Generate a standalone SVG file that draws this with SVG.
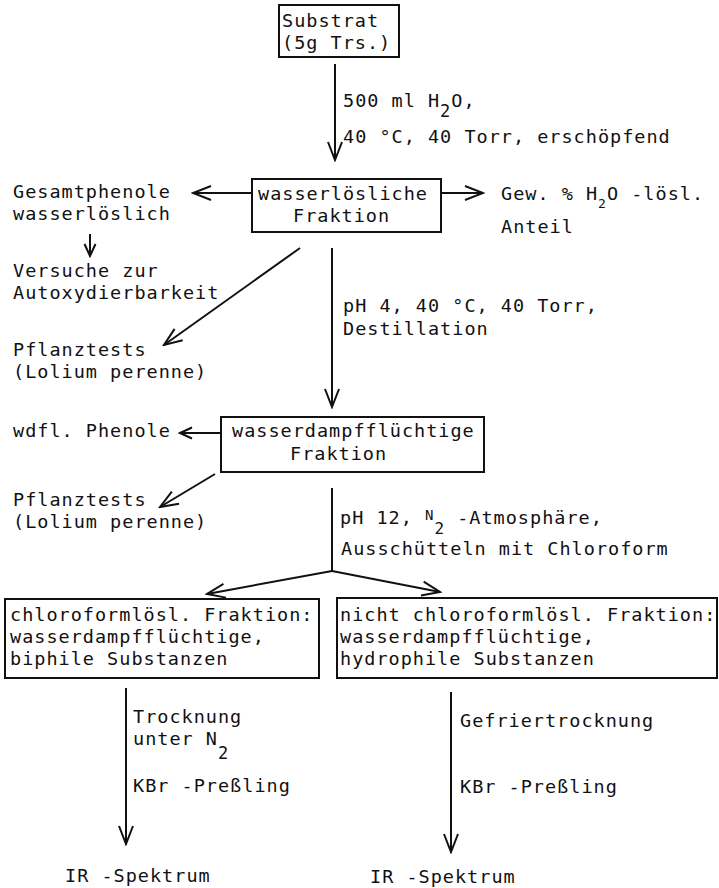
<svg xmlns="http://www.w3.org/2000/svg" width="719" height="888" viewBox="0 0 719 888">
  <style>
    text { font-family: "DejaVu Sans Mono", "Liberation Mono", monospace; font-size: 18.5px; letter-spacing: 1px; fill: #111; }
    .box { fill: #fff; stroke: #111; stroke-width: 2; }
    .ln { fill: none; stroke: #111; stroke-width: 2; }
  </style>
  <defs>
    <marker id="ah" markerWidth="22" markerHeight="18" refX="20" refY="9" orient="auto" markerUnits="userSpaceOnUse" viewBox="0 0 22 18">
      <path d="M2,2 L20,9 L2,16" fill="none" stroke="#111" stroke-width="2"/>
    </marker>
    <marker id="ahs" markerWidth="16" markerHeight="14" refX="14" refY="7" orient="auto" markerUnits="userSpaceOnUse" viewBox="0 0 16 14">
      <path d="M2,1.5 L14,7 L2,12.5" fill="none" stroke="#111" stroke-width="2"/>
    </marker>
  </defs>
  <rect width="719" height="888" fill="#fff"/>

  <!-- connectors -->
  <g id="connectors">
    <line class="ln" x1="335" y1="64" x2="335" y2="160" marker-end="url(#ah)"/>
    <line class="ln" x1="441" y1="193" x2="483" y2="193" marker-end="url(#ah)"/>
    <line class="ln" x1="252" y1="193" x2="193" y2="193" marker-end="url(#ah)"/>
    <line class="ln" x1="90" y1="234" x2="90" y2="256" marker-end="url(#ahs)"/>
    <line class="ln" x1="300" y1="248" x2="164" y2="345" marker-end="url(#ah)"/>
    <line class="ln" x1="332" y1="248" x2="332" y2="407" marker-end="url(#ah)"/>
    <line class="ln" x1="221" y1="433" x2="180" y2="433" marker-end="url(#ahs)"/>
    <line class="ln" x1="215" y1="474" x2="160" y2="507" marker-end="url(#ah)"/>
    <polyline class="ln" points="332,488 332,571"/>
    <line class="ln" x1="332" y1="571" x2="207" y2="594" marker-end="url(#ah)"/>
    <line class="ln" x1="332" y1="571" x2="440" y2="592" marker-end="url(#ah)"/>
    <line class="ln" x1="126" y1="688" x2="126" y2="844" marker-end="url(#ah)"/>
    <line class="ln" x1="451" y1="692" x2="451" y2="852" marker-end="url(#ah)"/>
  </g>

  <!-- edge labels -->
  <g id="labels">
    <text x="343" y="107">500 ml H<tspan dy="10" font-size="17">2</tspan><tspan dy="-10">O,</tspan></text>
    <text x="343" y="143">40 °C, 40 Torr, erschöpfend</text>
    <text x="343" y="312">pH 4, 40 °C, 40 Torr,</text>
    <text x="343" y="335">Destillation</text>
    <text x="340" y="524">pH 12, <tspan font-size="14" dy="-4">N</tspan><tspan font-size="16" dy="14">2</tspan><tspan dy="-10"> -Atmosphäre,</tspan></text>
    <text x="341" y="555">Ausschütteln mit Chloroform</text>
    <text x="133" y="723">Trocknung</text>
    <text x="133" y="745">unter N<tspan font-size="17" dy="14">2</tspan></text>
    <text x="133" y="792">KBr -Preßling</text>
    <text x="460" y="727">Gefriertrocknung</text>
    <text x="460" y="793">KBr -Preßling</text>
  </g>

  <g id="substrat">
    <rect class="box" x="279" y="5" width="120" height="52"/>
    <text x="282" y="27">Substrat</text>
    <text x="282" y="49">(5g Trs.)</text>
  </g>

  <g id="wasserloesliche">
    <rect class="box" x="252" y="179" width="189" height="53"/>
    <text x="258" y="200">wasserlösliche</text>
    <text x="293" y="222">Fraktion</text>
  </g>

  <g id="gew-anteil">
    <text x="501" y="200">Gew. % H<tspan font-size="13" dy="8">2</tspan><tspan dy="-8">O -lösl.</tspan></text>
    <text x="501" y="233">Anteil</text>
  </g>

  <g id="gesamtphenole">
    <text x="13" y="198">Gesamtphenole</text>
    <text x="13" y="220">wasserlöslich</text>
  </g>

  <g id="autoxydierbarkeit">
    <text x="13" y="277">Versuche zur</text>
    <text x="13" y="299">Autoxydierbarkeit</text>
  </g>

  <g id="pflanztests-1">
    <text x="13" y="356">Pflanztests</text>
    <text x="13" y="378">(Lolium perenne)</text>
  </g>

  <g id="wasserdampffluechtige">
    <rect class="box" x="221" y="417" width="263" height="55"/>
    <text x="232" y="437">wasserdampfflüchtige</text>
    <text x="290" y="460">Fraktion</text>
  </g>

  <g id="wdfl-phenole">
    <text x="13" y="437">wdfl. Phenole</text>
  </g>

  <g id="pflanztests-2">
    <text x="13" y="506">Pflanztests</text>
    <text x="13" y="528">(Lolium perenne)</text>
  </g>

  <g id="chloroformloesl">
    <rect class="box" x="5" y="599" width="314" height="79"/>
    <text x="10" y="621">chloroformlösl. Fraktion:</text>
    <text x="10" y="643">wasserdampfflüchtige,</text>
    <text x="10" y="665">biphile Substanzen</text>
  </g>

  <g id="nicht-chloroformloesl">
    <rect class="box" x="337" y="598" width="380" height="80"/>
    <text x="340" y="621">nicht chloroformlösl. Fraktion:</text>
    <text x="340" y="643">wasserdampfflüchtige,</text>
    <text x="340" y="665">hydrophile Substanzen</text>
  </g>

  <g id="ir-spektrum-1">
    <text x="65" y="882">IR -Spektrum</text>
  </g>

  <g id="ir-spektrum-2">
    <text x="370" y="883">IR -Spektrum</text>
  </g>
</svg>
